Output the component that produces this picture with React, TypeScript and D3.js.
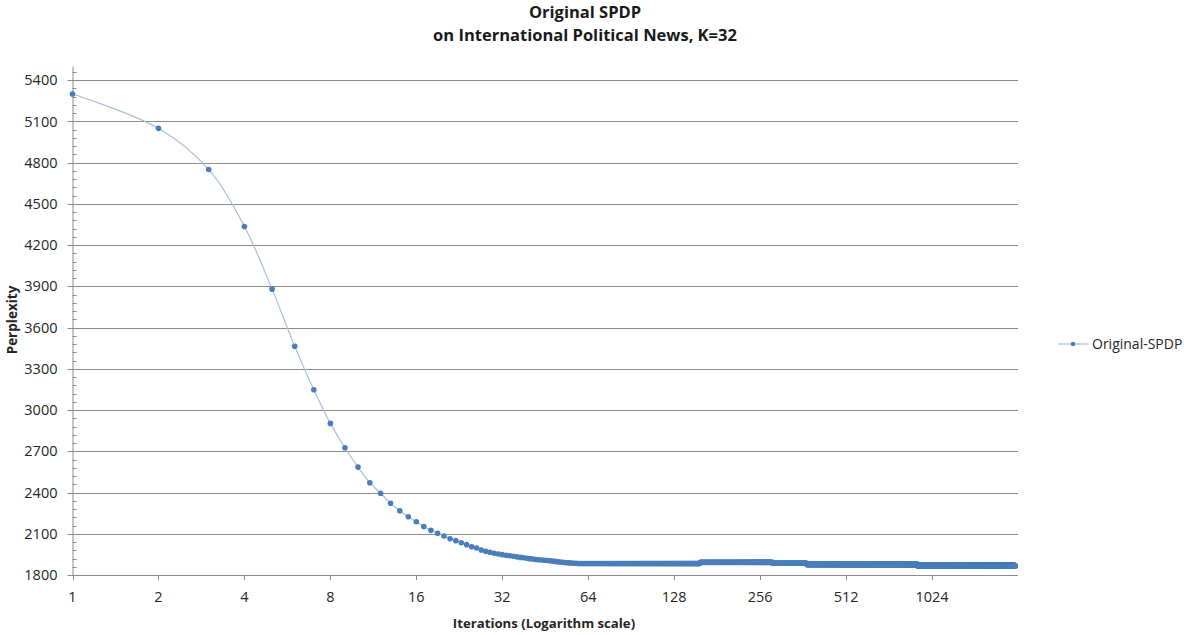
import React from "react";
import * as d3 from "d3";

// Perplexity per iteration, iterations 1..58 (iteration = index + 1)
const perplexityEarly: number[] = [
  5300, 5050, 4750, 4336, 3880, 3465, 3148, 2903, 2726, 2585,
  2471, 2395, 2322, 2268, 2224, 2188, 2152, 2125, 2103, 2084,
  2064, 2050, 2035, 2021, 2006, 1996, 1982, 1972, 1965, 1958,
  1953, 1948, 1944, 1940, 1936, 1932, 1928, 1925, 1922, 1919,
  1916, 1913, 1911, 1909, 1907, 1905, 1903, 1901, 1899, 1897,
  1895, 1893, 1891, 1889, 1888, 1887, 1886, 1885,
];
// Plateau levels (iteration ranges, inclusive)
const plateauStart: number[] = [59, 158, 283, 373, 911];
const plateauEnd: number[] = [157, 282, 372, 910, 2000];
const plateauValue: number[] = [1884, 1892, 1885, 1877, 1868];

const xTicks: number[] = [1, 2, 4, 8, 16, 32, 64, 128, 256, 512, 1024];
const yTicks: number[] = [1800, 2100, 2400, 2700, 3000, 3300, 3600, 3900, 4200, 4500, 4800, 5100, 5400];

const titleLines = ["Original SPDP", "on International Political News, K=32"];
const xTitle = "Iterations (Logarithm scale)";
const yTitle = "Perplexity";
const seriesName = "Original-SPDP";

type Pt = { it: number; v: number };

export default function App() {
  const W = 1184, H = 635;
  const left = 72.5, right = 1018, top = 66.5, bottom = 575;
  const font = "'Open Sans', 'Liberation Sans', sans-serif";

  const data: Pt[] = [];
  perplexityEarly.forEach((v, i) => data.push({ it: i + 1, v }));
  plateauStart.forEach((s, k) => {
    for (let it = s; it <= plateauEnd[k]; it++) data.push({ it, v: plateauValue[k] });
  });

  const x = d3.scaleLog().base(2).domain([1, 2048]).range([left, right]);
  const y = d3.scaleLinear().domain([1800, 5500]).range([bottom, top]);

  const line = d3
    .line<Pt>()
    .x((d) => x(d.it))
    .y((d) => y(d.v))
    .curve(d3.curveCatmullRom);

  const minorTicks = d3.range(1800, 5500 + 1, 60);

  const lineColor = "#a9bfdc";
  const markerColor = "#4a7ebb";
  const gridColor = "#8c8c8c";
  const textColor = "#262626";

  return (
    <svg
      width={W}
      height={H}
      style={{ position: "absolute", left: 0, top: 0, background: "#fff" }}
    >
      <rect x={0} y={0} width={W} height={H} fill="#fff" />
      {/* title */}
      {titleLines.map((t, i) => (
        <text
          key={t}
          x={585}
          y={18 + i * 23}
          textAnchor="middle"
          fontFamily={font}
          fontWeight="bold"
          fontSize={16.5}
          fill="#1a1a1a"
        >
          {t}
        </text>
      ))}
      {/* gridlines and y ticks */}
      {yTicks.map((t) => (
        <g key={t}>
          <line
            x1={left - 5}
            x2={right}
            y1={Math.round(y(t)) + 0.5}
            y2={Math.round(y(t)) + 0.5}
            stroke={gridColor}
            strokeWidth={1}
          />
          <text
            x={left - 15}
            y={y(t)}
            dy="0.35em"
            textAnchor="end"
            fontFamily={font}
            fontSize={14.5}
            fill={textColor}
          >
            {t}
          </text>
        </g>
      ))}
      {minorTicks.map((t) => (
        <line
          key={"m" + t}
          x1={left}
          x2={left + 4}
          y1={Math.round(y(t)) + 0.5}
          y2={Math.round(y(t)) + 0.5}
          stroke={gridColor}
          strokeWidth={1}
        />
      ))}
      {/* y axis line */}
      <line x1={left + 0.5} x2={left + 0.5} y1={top} y2={bottom} stroke={gridColor} />
      {/* x ticks */}
      {xTicks.map((t) => (
        <g key={"x" + t}>
          <line
            x1={Math.round(x(t)) + 0.5}
            x2={Math.round(x(t)) + 0.5}
            y1={bottom}
            y2={bottom + 5}
            stroke={gridColor}
          />
          <text
            x={x(t)}
            y={597}
            dy="0.35em"
            textAnchor="middle"
            fontFamily={font}
            fontSize={14.5}
            fill={textColor}
          >
            {t}
          </text>
        </g>
      ))}
      {/* axis titles */}
      <text
        x={544}
        y={623}
        dy="0.35em"
        textAnchor="middle"
        fontFamily={font}
        fontWeight="bold"
        fontSize={13.2}
        fill={textColor}
      >
        {xTitle}
      </text>
      <text
        transform={`translate(12,320) rotate(-90)`}
        dy="0.35em"
        textAnchor="middle"
        fontFamily={font}
        fontWeight="bold"
        fontSize={13.5}
        fill={textColor}
      >
        {yTitle}
      </text>
      {/* series */}
      <path d={line(data) || ""} fill="none" stroke={lineColor} strokeWidth={1.2} />
      {data.map((d) => (
        <circle key={d.it} cx={x(d.it)} cy={y(d.v)} r={2.8} fill={markerColor} />
      ))}
      {/* legend */}
      <line x1={1058} x2={1088} y1={344} y2={344} stroke={lineColor} strokeWidth={1.2} />
      <circle cx={1073} cy={344} r={2.3} fill={markerColor} />
      <text
        x={1092}
        y={344}
        dy="0.35em"
        fontFamily={font}
        fontSize={14}
        fill={textColor}
      >
        {seriesName}
      </text>
    </svg>
  );
}
